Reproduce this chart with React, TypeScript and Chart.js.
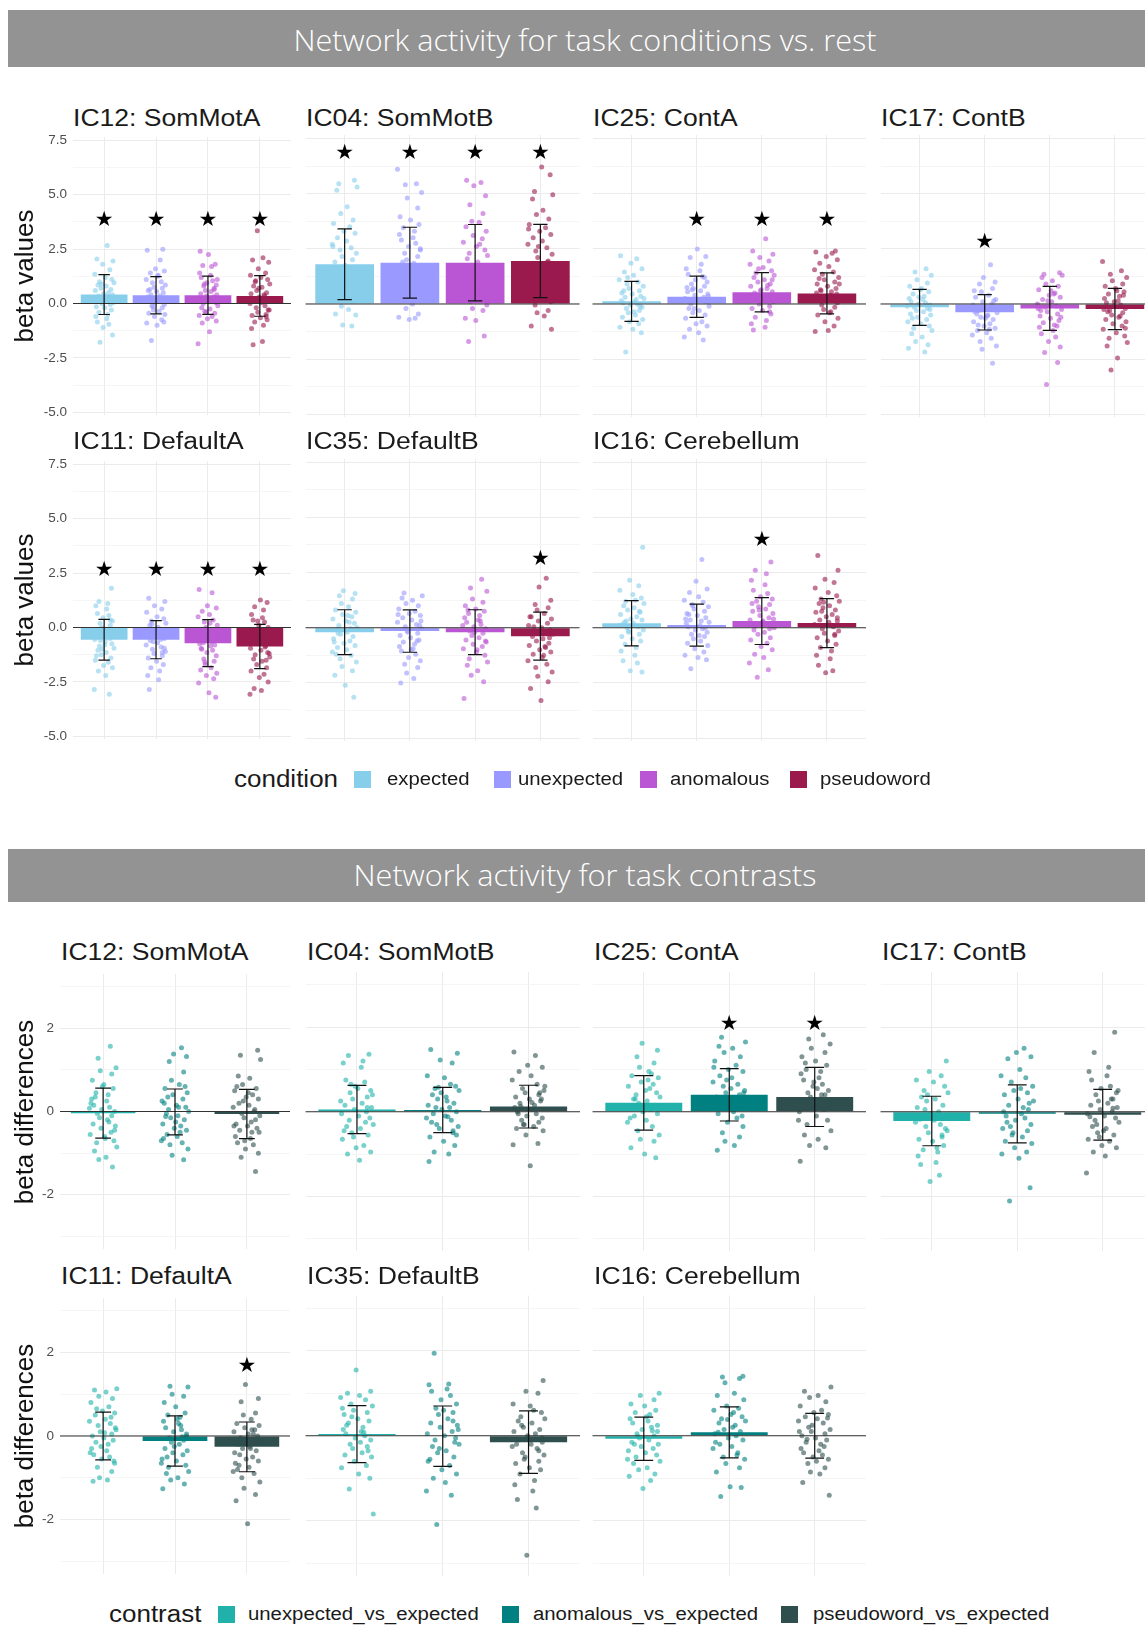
import React, { useEffect, useRef } from 'react';
import { Chart, registerables } from 'chart.js';

Chart.register(...registerables);

// ---------------- data ----------------
const NETWORKS = ['IC12: SomMotA', 'IC04: SomMotB', 'IC25: ContA', 'IC17: ContB', 'IC11: DefaultA', 'IC35: DefaultB', 'IC16: Cerebellum'];
const CONDITIONS = ['expected', 'unexpected', 'anomalous', 'pseudoword'];
const CONTRASTS = ['unexpected_vs_expected', 'anomalous_vs_expected', 'pseudoword_vs_expected'];
const COND_COLORS = ['#87CEEB', '#9999FF', '#BA55D3', '#9A1A4E'];
const CONTR_COLORS = ['#20B2AA', '#008080', '#2F4F4F'];

const TOP_HEADER = 'Network activity for task conditions vs. rest';
const BOTTOM_HEADER = 'Network activity for task contrasts';
const Y_TITLE_TOP = 'beta values';
const Y_TITLE_BOTTOM = 'beta differences';
const LEGEND_TITLE_TOP = 'condition';
const LEGEND_TITLE_BOTTOM = 'contrast';

const TOP_Y_TICKS = [-5, -2.5, 0, 2.5, 5, 7.5];
const TOP_Y_LABELS = ['-5.0', '-2.5', '0.0', '2.5', '5.0', '7.5'];
const TOP_Y_MINOR = [-3.75, -1.25, 1.25, 3.75, 6.25];
const TOP_Y_RANGE = [-5.12, 7.65];
const BOT_Y_TICKS = [-2, 0, 2];
const BOT_Y_LABELS = ['-2', '0', '2'];
const BOT_Y_MINOR = [-3, -1, 1, 3];
const BOT_Y_RANGE = [-3.3, 3.3];

const COND_MEAN = [
  [0.41, 0.38, 0.38, 0.35],
  [1.80, 1.87, 1.87, 1.95],
  [0.12, 0.33, 0.53, 0.48],
  [-0.15, -0.38, -0.20, -0.23],
  [-0.56, -0.56, -0.72, -0.87],
  [-0.20, -0.15, -0.20, -0.38],
  [0.20, 0.12, 0.30, 0.21],
];
const COND_SD = [
  [0.915, 0.86, 0.875, 0.935],
  [1.605, 1.605, 1.73, 1.66],
  [0.905, 0.935, 0.89, 0.93],
  [0.815, 0.80, 1.0, 0.935],
  [0.935, 0.875, 1.08, 1.015],
  [1.015, 0.96, 1.015, 1.09],
  [1.025, 0.95, 1.06, 1.11],
];
const COND_STAR = [
  [3.8, 3.8, 3.8, 3.8],
  [6.8, 6.8, 6.8, 6.8],
  [null, 3.8, 3.8, 3.8],
  [null, 2.78, null, null],
  [2.63, 2.63, 2.63, 2.63],
  [null, null, null, 3.09],
  [null, null, 3.97, null],
];
const CONTR_MEAN = [
  [-0.04, -0.01, -0.06],
  [0.05, 0.04, 0.12],
  [0.21, 0.40, 0.35],
  [-0.22, -0.05, -0.07],
  [0.0, -0.12, -0.26],
  [0.04, -0.01, -0.15],
  [-0.07, 0.08, 0.0],
];
const CONTR_SD = [
  [0.60, 0.55, 0.59],
  [0.57, 0.535, 0.505],
  [0.645, 0.62, 0.70],
  [0.585, 0.685, 0.60],
  [0.57, 0.60, 0.595],
  [0.67, 0.71, 0.735],
  [0.51, 0.60, 0.525],
];
const CONTR_STAR = [
  [null, null, null],
  [null, null, null],
  [null, 2.06, 2.06],
  [null, null, null],
  [null, null, 1.66],
  [null, null, null],
  [null, null, null],
];

// individual subject values (conditions)
const COND_PTS_IC12 = [
  [2.67, 2.05, 1.95, 1.8, 1.55, 1.35, 1.2, 1.1, 1.0, 0.95, 0.85, 0.8, 0.7, 0.65, 0.6, 0.5, 0.45, 0.4, 0.35, 0.3, 0.25, 0.2, 0.1, 0.05, 0.0, -0.05, -0.15, -0.2, -0.3, -0.4, -0.5, -0.6, -0.7, -0.85, -0.95, -1.1, -1.45, -1.78, 0.15, 0.9],
  [2.5, 2.45, 2.0, 1.6, 1.5, 1.4, 1.25, 1.1, 1.0, 0.95, 0.85, 0.75, 0.7, 0.6, 0.55, 0.5, 0.4, 0.35, 0.3, 0.2, 0.15, 0.1, 0.05, -0.05, -0.1, -0.2, -0.3, -0.35, -0.45, -0.5, -0.6, -0.75, -0.9, -1.0, -0.85, -1.7, 0.25, 0.65, 1.3, -0.15],
  [2.4, 2.25, 1.8, 1.75, 1.7, 1.4, 1.3, 1.2, 1.05, 0.95, 0.85, 0.8, 0.7, 0.6, 0.55, 0.45, 0.4, 0.35, 0.3, 0.2, 0.1, 0.05, 0.0, -0.1, -0.2, -0.25, -0.35, -0.45, -0.55, -0.6, -0.7, -0.8, -0.9, -1.3, -1.85, 0.25, 0.9, 1.1, -0.4, 0.65],
  [3.35, 2.1, 2.0, 1.9, 1.6, 1.4, 1.3, 1.2, 1.1, 1.0, 0.9, 0.8, 0.75, 0.6, 0.5, 0.45, 0.4, 0.3, 0.2, 0.15, 0.05, 0.0, -0.1, -0.2, -0.3, -0.4, -0.5, -0.55, -0.65, -0.75, -0.85, -1.0, -1.15, -1.75, -1.9, 0.35, 0.7, -0.3, 1.05, -0.6],
];
const COND_PTS_IC04 = [
  [5.6, 5.45, 5.3, 5.15, 4.4, 4.1, 3.8, 3.65, 3.5, 3.3, 3.2, 3.0, 2.85, 2.7, 2.55, 2.45, 2.3, 2.15, 2.0, 1.9, 1.75, 1.6, 1.45, 1.3, 1.15, 1.0, 0.85, 0.7, 0.55, 0.4, 0.25, 0.1, -0.1, -0.25, -0.45, -0.5, -0.95, -1.0, 2.6, 1.2],
  [6.1, 5.45, 5.4, 5.05, 4.8, 4.35, 3.95, 3.8, 3.6, 3.45, 3.3, 3.15, 3.0, 2.9, 2.75, 2.6, 2.45, 2.3, 2.15, 2.0, 1.85, 1.7, 1.55, 1.4, 1.2, 1.05, 0.9, 0.7, 0.55, 0.35, 0.15, 0.0, -0.2, -0.45, -0.6, -0.65, -0.7, 2.5, 1.9, 1.1],
  [5.6, 5.5, 5.35, 4.9, 4.5, 4.1, 3.75, 3.7, 3.5, 3.3, 3.1, 2.95, 2.8, 2.6, 2.45, 2.3, 2.2, 2.05, 1.9, 1.75, 1.6, 1.45, 1.3, 1.15, 0.95, 0.8, 0.65, 0.45, 0.3, 0.1, -0.05, -0.2, -0.3, -0.65, -0.75, -1.45, -1.7, 2.7, 1.5, 0.6],
  [6.2, 5.85, 5.1, 4.95, 4.75, 4.25, 4.05, 3.85, 3.6, 3.45, 3.3, 3.15, 3.0, 2.85, 2.7, 2.55, 2.4, 2.25, 2.1, 1.95, 1.8, 1.65, 1.5, 1.35, 1.2, 1.0, 0.85, 0.7, 0.5, 0.3, 0.1, -0.05, -0.3, -0.4, -0.55, -1.0, -1.15, 2.6, 1.9, 3.4],
];
const COND_PTS_IC25 = [
  [2.19, 2.05, 1.85, 1.6, 1.45, 1.3, 1.1, 1.0, 0.9, 0.8, 0.7, 0.6, 0.5, 0.45, 0.35, 0.3, 0.2, 0.15, 0.1, 0.05, 0.0, -0.05, -0.15, -0.2, -0.3, -0.4, -0.5, -0.6, -0.7, -0.8, -0.9, -1.05, -1.15, -1.3, -2.17, 0.25, 0.6, -0.35, 1.2, -0.1],
  [2.49, 2.15, 2.1, 1.8, 1.6, 1.5, 1.35, 1.25, 1.1, 1.0, 0.9, 0.8, 0.7, 0.6, 0.55, 0.45, 0.4, 0.3, 0.25, 0.15, 0.1, 0.0, -0.1, -0.2, -0.3, -0.4, -0.5, -0.65, -0.8, -0.9, -1.0, -1.15, -1.3, -1.5, -1.63, 0.65, 0.35, -0.2, 1.2, 0.75],
  [2.96, 2.4, 2.25, 2.1, 1.95, 1.8, 1.65, 1.5, 1.4, 1.3, 1.2, 1.1, 1.0, 0.9, 0.8, 0.7, 0.65, 0.55, 0.5, 0.4, 0.35, 0.25, 0.2, 0.1, 0.0, -0.1, -0.2, -0.3, -0.45, -0.6, -0.75, -0.9, -1.05, -1.18, 0.85, 0.6, 1.1, 0.3, -0.35, 1.6],
  [2.4, 2.35, 2.3, 2.15, 2.0, 1.85, 1.7, 1.55, 1.45, 1.35, 1.2, 1.1, 1.0, 0.9, 0.8, 0.7, 0.65, 0.55, 0.5, 0.4, 0.35, 0.25, 0.15, 0.05, -0.05, -0.15, -0.25, -0.35, -0.5, -0.65, -0.8, -1.0, -1.25, -1.2, 0.45, 0.6, 0.9, 1.15, -0.4, 0.3],
];
const COND_PTS_IC17 = [
  [1.6, 1.45, 1.3, 1.1, 0.95, 0.8, 0.65, 0.55, 0.45, 0.35, 0.25, 0.2, 0.1, 0.05, 0.0, -0.05, -0.15, -0.2, -0.3, -0.35, -0.45, -0.5, -0.6, -0.7, -0.8, -0.9, -1.0, -1.1, -1.2, -1.35, -1.5, -1.7, -1.85, -2.0, -2.17, 0.3, -0.25, -0.65, 0.7, -0.1],
  [1.78, 1.2, 1.0, 0.9, 0.7, 0.55, 0.4, 0.3, 0.2, 0.1, 0.0, -0.05, -0.15, -0.25, -0.3, -0.4, -0.45, -0.55, -0.6, -0.7, -0.8, -0.9, -1.0, -1.1, -1.2, -1.3, -1.4, -1.55, -1.7, -1.9, -2.05, -2.69, -0.35, -0.65, 0.15, -0.95, -1.15, 0.6, -0.5, -0.2],
  [1.42, 1.35, 1.3, 1.2, 1.05, 0.9, 0.8, 0.65, 0.5, 0.4, 0.3, 0.2, 0.1, 0.0, -0.1, -0.15, -0.25, -0.35, -0.45, -0.55, -0.65, -0.75, -0.85, -0.95, -1.05, -1.2, -1.35, -1.5, -1.7, -1.95, -2.2, -2.65, -3.65, 0.45, -0.3, -0.6, 0.15, -1.0, -0.2, 0.6],
  [1.92, 1.5, 1.35, 1.2, 1.05, 0.9, 0.8, 0.7, 0.55, 0.45, 0.35, 0.25, 0.15, 0.05, -0.05, -0.1, -0.2, -0.3, -0.4, -0.5, -0.6, -0.7, -0.8, -0.9, -1.0, -1.15, -1.3, -1.45, -1.55, -1.75, -1.9, -2.45, -2.99, 0.4, -0.25, -0.55, 0.1, -1.1, -0.35, 0.6],
];
const COND_PTS_IC11 = [
  [1.8, 1.2, 1.1, 1.0, 0.85, 0.65, 0.55, 0.45, 0.3, 0.2, 0.1, 0.0, -0.1, -0.2, -0.3, -0.4, -0.5, -0.55, -0.65, -0.75, -0.85, -0.95, -1.05, -1.15, -1.25, -1.4, -1.5, -1.6, -1.75, -1.85, -2.0, -2.2, -2.85, -3.07, -0.6, -0.35, -1.0, 0.35, -1.3, -0.8],
  [1.34, 1.2, 1.0, 0.85, 0.7, 0.5, 0.4, 0.3, 0.2, 0.1, 0.0, -0.1, -0.2, -0.3, -0.35, -0.45, -0.5, -0.6, -0.7, -0.8, -0.9, -1.0, -1.1, -1.2, -1.3, -1.4, -1.55, -1.7, -1.85, -2.0, -2.2, -2.4, -2.85, -0.55, -0.25, -0.95, 0.15, -1.15, -0.65, -0.4],
  [1.75, 1.6, 1.0, 0.9, 0.75, 0.6, 0.5, 0.35, 0.25, 0.1, 0.0, -0.1, -0.2, -0.35, -0.45, -0.55, -0.65, -0.75, -0.85, -0.95, -1.05, -1.15, -1.3, -1.45, -1.55, -1.7, -1.85, -1.95, -2.1, -2.2, -2.35, -2.55, -3.0, -3.2, -0.7, -0.4, -1.0, 0.2, -1.6, -0.8],
  [1.26, 1.15, 0.95, 0.8, 0.6, 0.45, 0.35, 0.25, 0.1, 0.0, -0.1, -0.2, -0.35, -0.45, -0.55, -0.65, -0.75, -0.85, -0.95, -1.05, -1.15, -1.25, -1.35, -1.45, -1.55, -1.7, -1.85, -2.0, -2.15, -2.3, -2.5, -2.8, -2.9, -3.07, -0.9, -0.6, -1.2, 0.3, -1.5, -0.3],
];
const COND_PTS_IC35 = [
  [1.67, 1.55, 1.45, 1.3, 1.1, 0.95, 0.8, 0.7, 0.6, 0.5, 0.4, 0.3, 0.2, 0.1, 0.0, -0.1, -0.2, -0.3, -0.4, -0.5, -0.6, -0.7, -0.8, -0.9, -1.0, -1.1, -1.25, -1.4, -1.55, -1.75, -1.95, -2.15, -2.6, -3.15, -0.25, 0.25, -0.65, 0.55, -1.2, -0.05],
  [1.57, 1.45, 1.35, 1.25, 1.1, 1.0, 0.85, 0.75, 0.65, 0.55, 0.45, 0.35, 0.25, 0.15, 0.05, -0.05, -0.15, -0.25, -0.35, -0.45, -0.55, -0.65, -0.75, -0.85, -0.95, -1.05, -1.2, -1.35, -1.5, -1.65, -1.8, -2.05, -2.3, -2.5, 0.3, -0.2, -0.6, 0.6, -1.0, 0.1],
  [2.2, 1.8, 1.65, 1.3, 1.15, 1.0, 0.85, 0.75, 0.65, 0.55, 0.45, 0.35, 0.25, 0.15, 0.05, -0.05, -0.15, -0.25, -0.35, -0.45, -0.55, -0.65, -0.75, -0.85, -0.95, -1.1, -1.25, -1.4, -1.55, -1.7, -1.95, -2.15, -2.45, -3.2, 0.3, -0.2, -0.6, 0.8, -1.0, 0.1],
  [2.24, 1.85, 1.25, 1.05, 0.9, 0.8, 0.65, 0.5, 0.4, 0.3, 0.2, 0.1, 0.0, -0.1, -0.2, -0.3, -0.4, -0.5, -0.6, -0.7, -0.8, -0.9, -1.0, -1.1, -1.2, -1.35, -1.5, -1.65, -1.8, -2.0, -2.2, -2.45, -2.75, -3.3, -0.45, 0.05, -0.85, 0.5, -1.25, -0.25],
];
const COND_PTS_IC16 = [
  [3.65, 2.15, 1.9, 1.7, 1.5, 1.35, 1.2, 1.1, 1.0, 0.9, 0.8, 0.7, 0.6, 0.5, 0.4, 0.35, 0.25, 0.2, 0.1, 0.05, 0.0, -0.1, -0.2, -0.3, -0.4, -0.5, -0.6, -0.75, -0.9, -1.05, -1.25, -1.5, -1.6, -1.95, -2.0, 0.3, 0.75, -0.15, 1.25, 0.15],
  [3.09, 2.1, 1.75, 1.6, 1.4, 1.25, 1.15, 1.05, 0.95, 0.85, 0.75, 0.65, 0.55, 0.45, 0.35, 0.3, 0.2, 0.1, 0.05, -0.05, -0.1, -0.2, -0.3, -0.4, -0.5, -0.6, -0.7, -0.8, -0.95, -1.1, -1.25, -1.35, -1.45, -1.86, 0.25, 0.6, -0.35, 1.0, 0.0, 0.4],
  [2.98, 2.6, 2.45, 2.15, 1.95, 1.7, 1.55, 1.4, 1.3, 1.2, 1.05, 0.95, 0.85, 0.75, 0.65, 0.55, 0.45, 0.35, 0.3, 0.2, 0.1, 0.0, -0.1, -0.2, -0.3, -0.45, -0.55, -0.7, -0.85, -1.0, -1.2, -1.35, -1.6, -1.9, -2.24, 0.4, 0.8, -0.05, 1.1, 0.25],
  [3.27, 2.6, 2.2, 2.05, 1.8, 1.6, 1.45, 1.3, 1.2, 1.1, 1.0, 0.9, 0.8, 0.7, 0.6, 0.5, 0.45, 0.35, 0.25, 0.15, 0.05, -0.05, -0.15, -0.25, -0.35, -0.45, -0.6, -0.75, -0.9, -1.05, -1.25, -1.4, -1.7, -1.95, -2.04, 0.3, 0.75, -0.3, 1.15, 0.1],
];
const COND_PTS = [COND_PTS_IC12, COND_PTS_IC04, COND_PTS_IC25, COND_PTS_IC17, COND_PTS_IC11, COND_PTS_IC35, COND_PTS_IC16];

// individual subject differences (contrasts)
const CONTR_PTS_IC12 = [
  [1.57, 1.28, 1.05, 0.98, 0.9, 0.75, 0.65, 0.55, 0.45, 0.4, 0.3, 0.25, 0.15, 0.1, 0.05, 0.0, -0.05, -0.1, -0.15, -0.2, -0.3, -0.35, -0.4, -0.5, -0.55, -0.6, -0.7, -0.75, -0.85, -0.95, -1.1, -1.15, -1.33, 0.2, -0.25, 0.6, -0.45, 0.35, -0.65, 0.08],
  [1.53, 1.38, 1.32, 1.2, 0.95, 0.75, 0.65, 0.55, 0.45, 0.4, 0.3, 0.25, 0.15, 0.1, 0.05, 0.0, -0.05, -0.1, -0.15, -0.2, -0.3, -0.35, -0.4, -0.45, -0.55, -0.6, -0.7, -0.75, -0.8, -0.9, -1.05, -1.16, 0.2, -0.25, 0.6, 0.35, -0.5, -0.65, 0.1, -0.12],
  [1.47, 1.35, 1.25, 0.85, 0.8, 0.65, 0.55, 0.5, 0.4, 0.35, 0.3, 0.2, 0.15, 0.1, 0.0, -0.05, -0.1, -0.15, -0.2, -0.3, -0.35, -0.4, -0.45, -0.5, -0.6, -0.65, -0.75, -0.8, -0.9, -1.0, -1.1, -1.44, 0.25, -0.25, 0.6, -0.5, -0.7, 0.05, -0.35, 0.45],
];
const CONTR_PTS_IC04 = [
  [1.36, 1.33, 1.2, 1.15, 1.05, 0.75, 0.7, 0.6, 0.5, 0.45, 0.35, 0.3, 0.2, 0.15, 0.1, 0.05, 0.0, -0.05, -0.1, -0.15, -0.2, -0.3, -0.35, -0.4, -0.5, -0.55, -0.65, -0.8, -0.85, -0.95, -1.0, -1.15, 0.25, -0.25, 0.65, 0.4, -0.6, 0.1, -0.45, 0.55],
  [1.47, 1.38, 1.22, 1.15, 0.85, 0.8, 0.6, 0.55, 0.5, 0.4, 0.35, 0.3, 0.2, 0.15, 0.1, 0.05, 0.0, -0.05, -0.1, -0.15, -0.2, -0.3, -0.35, -0.4, -0.5, -0.6, -0.7, -0.8, -0.95, -1.0, -1.18, 0.25, -0.25, 0.65, 0.45, -0.55, 0.1, -0.45, 0.58, -0.12],
  [1.41, 1.33, 1.1, 1.05, 0.95, 0.85, 0.75, 0.65, 0.55, 0.5, 0.45, 0.4, 0.35, 0.3, 0.25, 0.2, 0.15, 0.1, 0.05, 0.0, -0.05, -0.1, -0.15, -0.2, -0.25, -0.3, -0.35, -0.4, -0.45, -0.55, -0.75, -0.78, -1.28, 0.3, 0.12, 0.6, -0.05, 0.22, -0.3, 0.45],
];
const CONTR_PTS_IC25 = [
  [1.62, 1.45, 1.3, 1.15, 1.05, 0.95, 0.85, 0.8, 0.7, 0.65, 0.6, 0.5, 0.45, 0.4, 0.35, 0.3, 0.25, 0.2, 0.15, 0.1, 0.05, 0.0, -0.05, -0.1, -0.2, -0.25, -0.35, -0.45, -0.55, -0.65, -0.7, -0.85, -1.0, -1.09, 0.3, 0.55, -0.15, 0.75, 0.12, 0.9],
  [1.76, 1.65, 1.55, 1.5, 1.4, 1.3, 1.2, 1.1, 1.0, 0.95, 0.85, 0.8, 0.7, 0.65, 0.6, 0.5, 0.45, 0.4, 0.35, 0.3, 0.25, 0.2, 0.15, 0.1, 0.0, -0.05, -0.15, -0.25, -0.35, -0.5, -0.6, -0.7, -0.8, -0.91, 0.45, 0.75, 0.2, 1.05, 0.55, -0.1],
  [1.82, 1.72, 1.6, 1.5, 1.4, 1.3, 1.2, 1.1, 1.0, 0.95, 0.9, 0.8, 0.75, 0.65, 0.6, 0.5, 0.45, 0.4, 0.35, 0.3, 0.25, 0.2, 0.1, 0.05, 0.0, -0.1, -0.2, -0.3, -0.45, -0.55, -0.65, -0.8, -0.85, -1.17, 0.4, 0.7, 0.15, 1.15, 0.55, -0.2],
];
const CONTR_PTS_IC17 = [
  [1.2, 0.95, 0.85, 0.75, 0.7, 0.6, 0.5, 0.45, 0.35, 0.3, 0.25, 0.15, 0.1, 0.0, -0.05, -0.1, -0.15, -0.2, -0.25, -0.3, -0.35, -0.45, -0.5, -0.55, -0.65, -0.7, -0.8, -0.9, -0.95, -1.05, -1.2, -1.25, -1.5, -1.65, -0.4, 0.05, -0.6, 0.4, -0.85, -0.18],
  [1.5, 1.4, 1.3, 1.25, 1.0, 0.85, 0.8, 0.7, 0.6, 0.5, 0.45, 0.4, 0.3, 0.2, 0.15, 0.1, 0.0, -0.05, -0.1, -0.15, -0.2, -0.3, -0.35, -0.45, -0.5, -0.6, -0.7, -0.75, -0.85, -0.95, -1.0, -1.1, -1.8, -2.11, 0.25, -0.25, 0.55, -0.55, 0.05, -0.4],
  [1.88, 1.4, 1.05, 0.95, 0.85, 0.75, 0.6, 0.55, 0.45, 0.4, 0.3, 0.25, 0.2, 0.15, 0.1, 0.05, 0.0, -0.05, -0.1, -0.15, -0.2, -0.25, -0.35, -0.4, -0.5, -0.55, -0.65, -0.7, -0.8, -0.85, -0.95, -1.05, -1.45, 0.3, -0.3, 0.5, -0.6, 0.08, -0.12, -0.45],
];
const CONTR_PTS_IC11 = [
  [1.13, 1.1, 1.05, 0.95, 0.9, 0.8, 0.7, 0.6, 0.55, 0.5, 0.4, 0.35, 0.3, 0.25, 0.15, 0.1, 0.05, 0.0, -0.05, -0.1, -0.15, -0.2, -0.3, -0.35, -0.45, -0.5, -0.55, -0.65, -0.75, -0.85, -1.0, -1.05, -1.08, 0.2, -0.25, 0.45, -0.4, 0.08, -0.6, 0.65],
  [1.19, 1.17, 1.0, 0.95, 0.8, 0.7, 0.55, 0.5, 0.45, 0.35, 0.3, 0.2, 0.15, 0.1, 0.0, -0.05, -0.1, -0.15, -0.2, -0.3, -0.35, -0.4, -0.45, -0.55, -0.6, -0.7, -0.75, -0.85, -0.9, -1.0, -1.05, -1.15, -1.26, 0.25, -0.25, 0.05, -0.5, 0.4, -0.65, -0.02],
  [1.23, 0.9, 0.82, 0.55, 0.5, 0.4, 0.3, 0.25, 0.2, 0.15, 0.1, 0.05, 0.0, -0.05, -0.1, -0.2, -0.25, -0.3, -0.35, -0.4, -0.5, -0.55, -0.6, -0.7, -0.75, -0.85, -0.9, -1.0, -1.1, -1.25, -1.4, -1.55, -2.1, -0.15, -0.45, 0.15, -0.65, -0.3, -0.8, 0.05],
];
const CONTR_PTS_IC35 = [
  [1.55, 1.05, 1.0, 0.95, 0.9, 0.85, 0.75, 0.7, 0.6, 0.55, 0.5, 0.4, 0.35, 0.3, 0.2, 0.15, 0.1, 0.05, 0.0, -0.05, -0.1, -0.2, -0.25, -0.3, -0.4, -0.45, -0.5, -0.6, -0.7, -0.75, -0.9, -1.0, -1.25, -1.84, 0.25, -0.15, 0.45, -0.35, 0.65, 0.08],
  [1.94, 1.22, 1.2, 1.1, 1.05, 0.95, 0.85, 0.75, 0.65, 0.55, 0.5, 0.4, 0.3, 0.25, 0.2, 0.1, 0.05, 0.0, -0.05, -0.1, -0.2, -0.25, -0.35, -0.4, -0.5, -0.6, -0.7, -0.8, -0.9, -1.0, -1.1, -1.3, -1.4, -2.09, 0.15, -0.3, 0.35, -0.55, 0.6, -0.15],
  [1.3, 1.05, 1.0, 0.75, 0.7, 0.55, 0.45, 0.4, 0.35, 0.3, 0.2, 0.15, 0.1, 0.05, 0.0, -0.05, -0.1, -0.2, -0.25, -0.3, -0.4, -0.45, -0.5, -0.6, -0.65, -0.75, -0.8, -0.9, -1.05, -1.15, -1.3, -1.5, -1.7, -2.81, -0.15, 0.25, -0.35, -0.55, 0.6, -0.2],
];
const CONTR_PTS_IC16 = [
  [1.0, 0.95, 0.85, 0.75, 0.7, 0.6, 0.55, 0.5, 0.4, 0.35, 0.3, 0.2, 0.15, 0.1, 0.05, 0.0, -0.05, -0.1, -0.15, -0.2, -0.25, -0.3, -0.35, -0.4, -0.45, -0.5, -0.6, -0.65, -0.75, -0.8, -0.9, -0.95, -1.05, -1.24, 0.25, -0.2, 0.45, -0.55, 0.12, -0.02],
  [1.4, 1.38, 1.35, 1.25, 1.0, 0.95, 0.85, 0.7, 0.65, 0.6, 0.5, 0.45, 0.4, 0.35, 0.3, 0.2, 0.15, 0.1, 0.05, 0.0, -0.05, -0.1, -0.2, -0.25, -0.3, -0.4, -0.5, -0.55, -0.65, -0.75, -0.85, -1.2, -1.22, -1.43, 0.25, -0.15, 0.55, 0.08, -0.45, 0.38],
  [1.15, 1.05, 0.95, 0.9, 0.8, 0.7, 0.6, 0.55, 0.5, 0.45, 0.4, 0.35, 0.3, 0.2, 0.15, 0.1, 0.05, 0.0, -0.05, -0.1, -0.15, -0.2, -0.3, -0.35, -0.4, -0.45, -0.5, -0.55, -0.65, -0.75, -0.85, -0.9, -1.1, -1.4, 0.25, -0.25, 0.1, -0.6, 0.42, -0.08],
];
const CONTR_PTS = [CONTR_PTS_IC12, CONTR_PTS_IC04, CONTR_PTS_IC25, CONTR_PTS_IC17, CONTR_PTS_IC11, CONTR_PTS_IC35, CONTR_PTS_IC16];

// horizontal jitter (fraction of category spacing)
const JITTER = [0.06, -0.14, 0.17, -0.03, 0.11, -0.18, 0.02, 0.15, -0.09, 0.19, -0.12, 0.04, -0.06, 0.13, -0.17, 0.08, -0.01, 0.16, -0.11, 0.03, -0.19, 0.1, -0.07, 0.18, -0.04, 0.12, -0.15, 0.01, 0.14, -0.1, 0.07, -0.16, 0.05, -0.13, 0.09, -0.02, 0.16, -0.08, 0.12, -0.05];

// ---------------- layout ----------------
const W = 1145;
const H = 1627;
const TOP_COL_X = [[73, 291], [305.5, 579.5], [592.5, 866], [880.5, 1154]];
const TOP_ROW_Y = [[135.1, 417], [458.8, 740.8]];
const BOT_COL_X = [[60, 290], [305.5, 580], [592.5, 866], [880.5, 1154]];
const BOT_ROW_Y = [[972.1, 1251.3], [1295.5, 1576]];
const TOP_TITLE_Y = [118.3, 441.7];
const BOT_TITLE_Y = [952.5, 1276.7];
const FONT = '"Liberation Sans", Arial, Helvetica, sans-serif';
const STRETCH = 1.13;

function rgba(hex: string, a: number) {
  const n = parseInt(hex.slice(1), 16);
  return `rgba(${(n >> 16) & 255},${(n >> 8) & 255},${n & 255},${a})`;
}

function Panel(props: any) {
  const { means, sds, stars, pts, colors, range, majors, labels, minors, xr, yr, showY, gIndex } = props;
  const ref = useRef<HTMLCanvasElement>(null);
  const PAD = 12;
  const yW = showY ? 50 : 0;
  const left = Math.round(xr[0] - PAD - yW);
  const top = Math.round(yr[0] - PAD);
  const width = Math.round(xr[1] + PAD) - left;
  const height = Math.round(yr[1] + PAD) - top;
  const padL = xr[0] - left - yW;
  const padT = yr[0] - top;
  const padR = left + width - xr[1];
  const padB = top + height - yr[1];

  useEffect(() => {
    const n = means.length;
    const idx = means.map((_: number, i: number) => i);
    const datasets: any[] = [
      {
        type: 'bar',
        data: means.map((m: number, i: number) => ({ x: i, y: m })),
        backgroundColor: colors,
        borderWidth: 0,
        barPercentage: 0.9,
        categoryPercentage: 1,
        order: 3,
      },
    ];
    pts.forEach((arr: number[], c: number) => {
      datasets.push({
        type: 'scatter',
        data: arr.map((v: number, k: number) => ({ x: c + JITTER[(k + gIndex * 7 + c * 13) % JITTER.length], y: v })),
        backgroundColor: rgba(colors[c], 0.6),
        borderWidth: 0,
        pointRadius: 2.5,
        pointHoverRadius: 2.5,
        order: 2,
      });
    });
    const tickList = [
      ...majors.map((v: number, i: number) => ({ value: v, lab: labels[i], minor: false })),
      ...minors.map((v: number) => ({ value: v, lab: '', minor: true })),
    ];
    const overlay = {
      id: 'overlay',
      afterDatasetsDraw(chart: any) {
        const { ctx, chartArea } = chart;
        const x = chart.scales.x;
        const y = chart.scales.y;
        ctx.save();
        const zy = y.getPixelForValue(0);
        ctx.strokeStyle = '#333333';
        ctx.lineWidth = 1.1;
        ctx.beginPath();
        ctx.moveTo(chartArea.left, zy);
        ctx.lineTo(chartArea.right, zy);
        ctx.stroke();
        const capHalf = (x.getPixelForValue(1) - x.getPixelForValue(0)) * 0.11;
        ctx.strokeStyle = '#111111';
        ctx.lineWidth = 1.2;
        means.forEach((m: number, i: number) => {
          const cx = x.getPixelForValue(i);
          const hi = y.getPixelForValue(m + sds[i]);
          const lo = y.getPixelForValue(m - sds[i]);
          ctx.beginPath();
          ctx.moveTo(cx, hi); ctx.lineTo(cx, lo);
          ctx.moveTo(cx - capHalf, hi); ctx.lineTo(cx + capHalf, hi);
          ctx.moveTo(cx - capHalf, lo); ctx.lineTo(cx + capHalf, lo);
          ctx.stroke();
        });
        ctx.fillStyle = '#000000';
        ctx.font = '21px "DejaVu Sans"';
        ctx.textAlign = 'center';
        ctx.textBaseline = 'middle';
        stars.forEach((s: number | null, i: number) => {
          if (s === null || s === undefined) return;
          ctx.fillText('\u2605', x.getPixelForValue(i), y.getPixelForValue(s));
        });
        ctx.restore();
      },
    };
    const chart = new Chart(ref.current as HTMLCanvasElement, {
      type: 'bar',
      data: { datasets },
      plugins: [overlay],
      options: {
        responsive: false,
        animation: false,
        events: [],
        layout: { padding: { left: padL, right: padR, top: padT, bottom: padB } },
        plugins: { legend: { display: false }, tooltip: { enabled: false } },
        scales: {
          x: {
            type: 'linear',
            min: -0.6,
            max: n - 0.4,
            offset: false,
            afterBuildTicks: (s: any) => { s.ticks = idx.map((v: number) => ({ value: v })); },
            afterFit: (s: any) => { s.height = 0; },
            ticks: { display: false },
            grid: { color: '#ebebeb', lineWidth: 1, drawTicks: false, offset: false },
            border: { display: false },
          },
          y: {
            type: 'linear',
            min: range[0],
            max: range[1],
            afterBuildTicks: (s: any) => { s.ticks = tickList.map((t) => ({ ...t })); },
            afterFit: (s: any) => { s.width = yW; },
            ticks: {
              display: showY,
              autoSkip: false,
              padding: 6,
              color: '#4d4d4d',
              font: { family: 'Liberation Sans', size: 13.5 },
              callback: (_v: any, i: number) => tickList[i].lab,
            },
            grid: {
              drawTicks: false,
              color: (c: any) => (c.tick && c.tick.minor ? '#f3f3f3' : '#ebebeb'),
              lineWidth: (c: any) => (c.tick && c.tick.minor ? 0.8 : 1.1),
            },
            border: { display: false },
          },
        },
      } as any,
    });
    return () => chart.destroy();
  }, []);

  return (
    <canvas
      ref={ref}
      width={width}
      height={height}
      style={{ position: 'absolute', left, top, width, height }}
    />
  );
}

function Txt(props: any) {
  const { x, cy, size, children, color, stretch } = props;
  return (
    <div
      style={{
        position: 'absolute',
        left: x,
        top: cy - size * 0.49,
        fontFamily: FONT,
        fontSize: size,
        lineHeight: 1,
        whiteSpace: 'nowrap',
        color: color || '#1a1a1a',
        transform: `scaleX(${stretch || STRETCH})`,
        transformOrigin: 'left center',
      }}
    >
      {children}
    </div>
  );
}

function Band({ top, height, text, cy }: any) {
  return (
    <>
      <div style={{ position: 'absolute', left: 7.5, top, width: W - 7.5, height, background: '#939393' }} />
      <div
        style={{
          position: 'absolute',
          left: 0,
          width: 1170,
          top: cy - 29 * 0.531,
          textAlign: 'center',
          fontFamily: '"Open Sans", sans-serif',
          fontWeight: 300,
          fontSize: 29,
          lineHeight: 1,
          color: '#ffffff',
          whiteSpace: 'nowrap',
          transform: 'scaleX(1.055)',
          transformOrigin: '585px center',
        }}
      >
        {text}
      </div>
    </>
  );
}

function YTitle({ cy, text }: any) {
  return (
    <div
      style={{
        position: 'absolute',
        left: 24,
        top: cy,
        transform: 'translate(-50%, -50%) rotate(-90deg)',
        fontFamily: FONT,
        fontSize: 26,
        lineHeight: 1,
        whiteSpace: 'nowrap',
        color: '#111111',
      }}
    >
      {text}
    </div>
  );
}

function Legend({ cy, title, titleX, names, colors, keyX, labelX }: any) {
  return (
    <>
      <Txt x={titleX} cy={cy} size={23}>{title}</Txt>
      {names.map((nm: string, i: number) => (
        <React.Fragment key={nm}>
          <div style={{ position: 'absolute', left: keyX[i], top: cy - 8.5, width: 17, height: 17, background: colors[i] }} />
          <Txt x={labelX[i]} cy={cy} size={18}>{nm}</Txt>
        </React.Fragment>
      ))}
    </>
  );
}

export default function App() {
  useEffect(() => {
    document.body.style.margin = '0';
  }, []);

  const panels = NETWORKS.map((name, k) => {
    const row = k < 4 ? 0 : 1;
    const col = k < 4 ? k : k - 4;
    return { name, k, row, col };
  });

  return (
    <div style={{ position: 'absolute', left: 0, top: 0, width: W, height: H, overflow: 'hidden', background: '#ffffff' }}>
      <Band top={10} height={57} text={TOP_HEADER} cy={40} />
      <Band top={849} height={53} text={BOTTOM_HEADER} cy={875} />

      {panels.map(({ name, k, row, col }) => (
        <React.Fragment key={'t' + k}>
          <Txt x={TOP_COL_X[col][0]} cy={TOP_TITLE_Y[row]} size={23.5}>{name}</Txt>
          <Panel
            means={COND_MEAN[k]}
            sds={COND_SD[k]}
            stars={COND_STAR[k]}
            pts={COND_PTS[k]}
            colors={COND_COLORS}
            range={TOP_Y_RANGE}
            majors={TOP_Y_TICKS}
            labels={TOP_Y_LABELS}
            minors={TOP_Y_MINOR}
            xr={TOP_COL_X[col]}
            yr={TOP_ROW_Y[row]}
            showY={col === 0}
            gIndex={k}
          />
        </React.Fragment>
      ))}
      <YTitle cy={(TOP_ROW_Y[0][0] + TOP_ROW_Y[0][1]) / 2} text={Y_TITLE_TOP} />
      <YTitle cy={(TOP_ROW_Y[1][0] + TOP_ROW_Y[1][1]) / 2} text={Y_TITLE_TOP} />
      <Legend
        cy={779}
        title={LEGEND_TITLE_TOP}
        titleX={234}
        names={CONDITIONS}
        colors={COND_COLORS}
        keyX={[354, 494, 640, 790]}
        labelX={[386.6, 517.5, 670, 820]}
      />

      {panels.map(({ name, k, row, col }) => (
        <React.Fragment key={'b' + k}>
          <Txt x={BOT_COL_X[col][0] + 1} cy={BOT_TITLE_Y[row]} size={23.5}>{name}</Txt>
          <Panel
            means={CONTR_MEAN[k]}
            sds={CONTR_SD[k]}
            stars={CONTR_STAR[k]}
            pts={CONTR_PTS[k]}
            colors={CONTR_COLORS}
            range={BOT_Y_RANGE}
            majors={BOT_Y_TICKS}
            labels={BOT_Y_LABELS}
            minors={BOT_Y_MINOR}
            xr={BOT_COL_X[col]}
            yr={BOT_ROW_Y[row]}
            showY={col === 0}
            gIndex={k + 3}
          />
        </React.Fragment>
      ))}
      <YTitle cy={(BOT_ROW_Y[0][0] + BOT_ROW_Y[0][1]) / 2} text={Y_TITLE_BOTTOM} />
      <YTitle cy={(BOT_ROW_Y[1][0] + BOT_ROW_Y[1][1]) / 2} text={Y_TITLE_BOTTOM} />
      <Legend
        cy={1614}
        title={LEGEND_TITLE_BOTTOM}
        titleX={109}
        names={CONTRASTS}
        colors={CONTR_COLORS}
        keyX={[217.5, 502, 780.6]}
        labelX={[248, 532.5, 813]}
      />
    </div>
  );
}
